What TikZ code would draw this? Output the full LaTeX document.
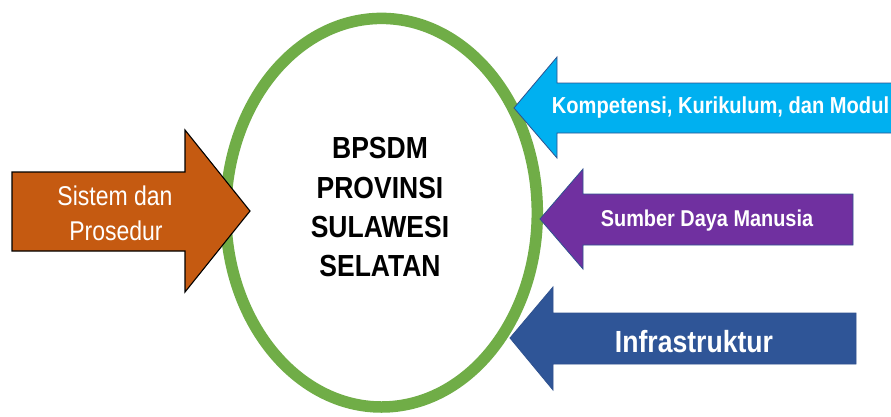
\documentclass[tikz,border=0pt]{standalone}
\usepackage{fontspec}
\setmainfont{Liberation Sans}
\usepackage{graphicx}
\usetikzlibrary{shapes.geometric}
\definecolor{ringgreen}{HTML}{70AD47}
\definecolor{orangefill}{HTML}{C55A11}
\definecolor{cyanfill}{HTML}{00B0F0}
\definecolor{purplefill}{HTML}{7030A0}
\definecolor{bluefill}{HTML}{2F5597}
\definecolor{outlineblue}{HTML}{2F528F}
\newcommand{\vstr}[1]{\scalebox{1}[1.15]{#1}}
\begin{document}
\begin{tikzpicture}[x=1pt,y=-1pt,
  core/.style={ellipse, draw=ringgreen, line width=11.5pt, inner sep=0pt,
    minimum width=311.6pt, minimum height=388.6pt},
  lbl/.style={inner sep=0pt, anchor=base},
  ctext/.style={lbl, text=black, font=\fontsize{26.5}{30}\selectfont\bfseries},
  wtext/.style={lbl, text=white},
  leftarrow/.style={draw=black, line width=1.1pt, fill=orangefill, line join=miter},
  rightarrow/.style={draw=outlineblue, line width=0.8pt, line join=miter}]
\useasboundingbox (0,0) rectangle (891,416);
\clip (0,0) rectangle (891,416);
\fill[white] (0,0) rectangle (891,416);

\node[core] (core) at (381.5,212.7) {};

% left arrow
\draw[leftarrow] (12,172) -- (185,172) -- (185,130) -- (250,211) -- (185,292) -- (185,251) -- (12,251) -- cycle;
% right arrows
\draw[rightarrow, fill=cyanfill] (514,108) -- (557,57) -- (557,83) -- (900,83) -- (900,133) -- (557,133) -- (557,158) -- cycle;
\draw[rightarrow, fill=purplefill] (540,219) -- (583,169) -- (583,194) -- (853,194) -- (853,245) -- (583,245) -- (583,269) -- cycle;
\draw[rightarrow, fill=bluefill] (510,338) -- (553,287) -- (553,313) -- (856,313) -- (856,364) -- (553,364) -- (553,390) -- cycle;

% centre text
\node[ctext] (t1) at (380,158) {\vstr{BPSDM}};
\node[ctext] (t2) at (380,198) {\vstr{PROVINSI}};
\node[ctext] (t3) at (380,237) {\vstr{SULAWESI}};
\node[ctext] (t4) at (380,276) {\vstr{SELATAN}};

% arrow labels
\node[wtext, font=\fontsize{23}{26}\selectfont] (s1) at (115,205) {\scalebox{1}[1.18]{Sistem dan}};
\node[wtext, font=\fontsize{23}{26}\selectfont] (s2) at (116,240) {\scalebox{1}[1.18]{Prosedur}};
\node[wtext, font=\fontsize{20.1}{24}\selectfont\bfseries] (k) at (720.5,113) {\vstr{Kompetensi, Kurikulum, dan Modul}};
\node[wtext, font=\fontsize{19.9}{24}\selectfont\bfseries] (m) at (707,226) {\vstr{Sumber Daya Manusia}};
\node[wtext, font=\fontsize{26.6}{30}\selectfont\bfseries] (i) at (694,352) {\vstr{Infrastruktur}};
\end{tikzpicture}
\end{document}
